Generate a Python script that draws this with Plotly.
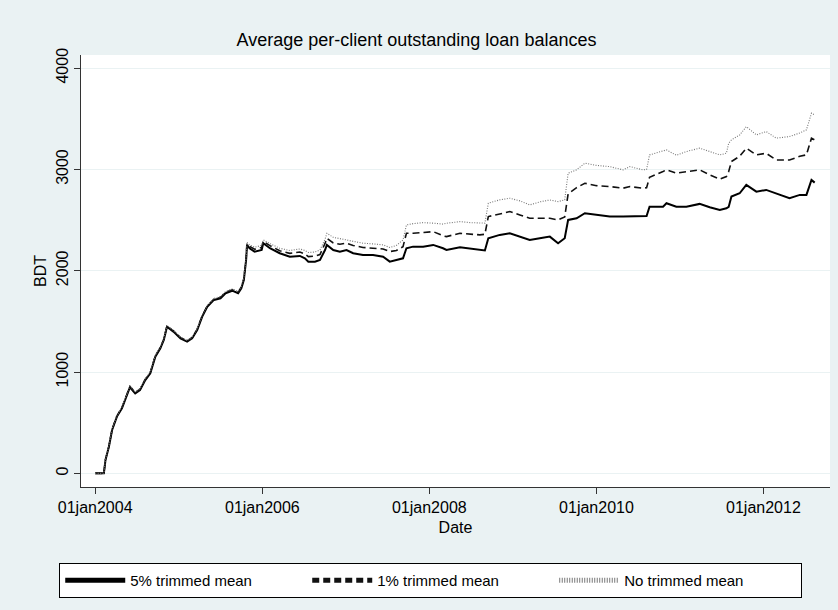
import plotly.graph_objects as go

dates = [
    "2004-01-01", "2004-02-08", "2004-02-15", "2004-03-01", "2004-03-15", "2004-04-05",
    "2004-04-27", "2004-05-18", "2004-06-01", "2004-06-24", "2004-07-15", "2004-08-07",
    "2004-08-29", "2004-09-20", "2004-10-12", "2004-10-27", "2004-11-10", "2004-12-08",
    "2005-01-08", "2005-02-06", "2005-02-28", "2005-03-22", "2005-04-13", "2005-05-05",
    "2005-06-03", "2005-07-02", "2005-07-24", "2005-08-22", "2005-09-17", "2005-10-01",
    "2005-10-12", "2005-10-22", "2005-10-26", "2005-11-06", "2005-11-28", "2005-12-29",
    "2006-01-05", "2006-02-03", "2006-03-18", "2006-05-01", "2006-06-14", "2006-07-06",
    "2006-07-21", "2006-08-19", "2006-09-10", "2006-10-02", "2006-10-10", "2006-11-07",
    "2006-12-06", "2007-01-04", "2007-02-02", "2007-03-17", "2007-04-30", "2007-06-13",
    "2007-07-12", "2007-08-10", "2007-09-08", "2007-09-23", "2007-10-22", "2007-12-05",
    "2008-01-18", "2008-03-01", "2008-03-16", "2008-05-14", "2008-06-27", "2008-08-09",
    "2008-08-31", "2008-09-15", "2008-11-04", "2008-12-18", "2009-01-31", "2009-03-15",
    "2009-04-28", "2009-06-11", "2009-07-17", "2009-08-15", "2009-08-30", "2009-10-06",
    "2009-11-11", "2010-01-01", "2010-02-28", "2010-04-27", "2010-05-27", "2010-07-23",
    "2010-08-08", "2010-08-21", "2010-10-19", "2010-11-03", "2010-12-16", "2011-01-29",
    "2011-03-28", "2011-05-11", "2011-06-24", "2011-07-23", "2011-08-02", "2011-08-14",
    "2011-09-19", "2011-10-18", "2011-12-01", "2012-01-13", "2012-02-26", "2012-04-24",
    "2012-06-08", "2012-07-07", "2012-07-29", "2012-08-12",
]

trim5 = [
    0, 0, 131, 263, 428, 560,
    642, 757, 850, 790, 823, 921,
    988, 1152, 1234, 1316, 1448, 1399,
    1333, 1300, 1333, 1415, 1547, 1645,
    1712, 1728, 1778, 1803, 1778, 1827,
    1909, 2107, 2255, 2222, 2189, 2205,
    2272, 2222, 2173, 2139, 2146, 2123,
    2090, 2090, 2107, 2205, 2255, 2205,
    2189, 2205, 2173, 2156, 2156, 2139,
    2090, 2107, 2123, 2222, 2238, 2238,
    2255, 2222, 2205, 2232, 2222, 2205,
    2200, 2321, 2354, 2370, 2337, 2304,
    2321, 2337, 2272, 2321, 2502, 2518,
    2568, 2551, 2535, 2535, 2537, 2535,
    2540, 2633, 2633, 2667, 2633, 2633,
    2660, 2627, 2600, 2617, 2630, 2732,
    2765, 2847, 2781, 2798, 2765, 2716,
    2749, 2749, 2897, 2870,
]

trim1 = [
    0, 0, 135, 268, 435, 566,
    650, 765, 858, 798, 830, 928,
    996, 1160, 1242, 1324, 1455, 1406,
    1340, 1307, 1340, 1422, 1555, 1652,
    1720, 1737, 1787, 1812, 1788, 1837,
    1920, 2120, 2268, 2240, 2212, 2230,
    2290, 2248, 2198, 2172, 2185, 2165,
    2140, 2145, 2160, 2270, 2321, 2275,
    2262, 2272, 2250, 2230, 2222, 2215,
    2189, 2200, 2238, 2370, 2370, 2375,
    2386, 2345, 2337, 2370, 2360, 2354,
    2360, 2535, 2560, 2584, 2550, 2518,
    2518, 2518, 2502, 2530, 2760, 2820,
    2864, 2840, 2831, 2815, 2831, 2815,
    2820, 2923, 2980, 2996, 2963, 2975,
    2996, 2946, 2904, 2930, 2979, 3078,
    3130, 3210, 3144, 3160, 3094, 3094,
    3130, 3144, 3309, 3292,
]

notrim = [
    0, 0, 138, 272, 440, 570,
    655, 770, 862, 804, 836, 934,
    1002, 1166, 1248, 1330, 1460, 1412,
    1346, 1313, 1346, 1428, 1561, 1658,
    1727, 1745, 1795, 1820, 1797, 1846,
    1930, 2132, 2280, 2255, 2232, 2250,
    2305, 2268, 2222, 2200, 2215, 2200,
    2180, 2185, 2205, 2310, 2370, 2330,
    2320, 2304, 2290, 2272, 2265, 2255,
    2230, 2250, 2304, 2452, 2465, 2475,
    2470, 2460, 2469, 2485, 2475, 2469,
    2470, 2667, 2700, 2716, 2690, 2650,
    2680, 2699, 2683, 2700, 2963, 2996,
    3062, 3040, 3028, 2996, 3028, 2996,
    3000, 3144, 3180, 3193, 3140, 3177,
    3210, 3177, 3144, 3160, 3259, 3292,
    3340, 3423, 3341, 3374, 3309, 3325,
    3360, 3391, 3556, 3539,
]

series_names = ["5% trimmed mean", "1% trimmed mean", "No trimmed mean"]
x_tickvals = ["2004-01-01", "2006-01-01", "2008-01-01", "2010-01-01", "2012-01-01"]
x_ticktext = ["01jan2004", "01jan2006", "01jan2008", "01jan2010", "01jan2012"]
y_tickvals = [0, 1000, 2000, 3000, 4000]

BG = "#EAF2F3"
FONT = "Liberation Sans, Arial, Helvetica, sans-serif"

fig = go.Figure()
fig.add_trace(go.Scatter(x=dates, y=trim5, mode="lines", name=series_names[0],
                         line=dict(color="#000000", width=2)))
fig.add_trace(go.Scatter(x=dates, y=trim1, mode="lines", name=series_names[1],
                         line=dict(color="#111111", width=1.6, dash="7px,4px")))
fig.add_trace(go.Scatter(x=dates, y=notrim, mode="lines", name=series_names[2],
                         line=dict(color="#777777", width=1.1, dash="1px,1.5px")))

fig.update_layout(
    width=838, height=610,
    paper_bgcolor=BG, plot_bgcolor="white",
    margin=dict(l=81, r=8, t=55, b=123, autoexpand=False),
    font=dict(family=FONT, size=15, color="#000000"),
    title=dict(text="Average per-client outstanding loan balances",
               x=0.497, xref="container", xanchor="center",
               y=1 - 40 / 610, yref="container", yanchor="middle",
               font=dict(family=FONT, size=18, color="#000000")),
    showlegend=True,
    legend=dict(orientation="h", xref="container", x=0.514, xanchor="center",
                yref="container", y=1 - 563 / 610, yanchor="top",
                bgcolor="white", bordercolor="#000000", borderwidth=1,
                itemwidth=60,
                entrywidth=172, entrywidthmode="pixels",
                font=dict(family=FONT, size=15, color="#000000"),
                itemsizing="constant", traceorder="normal"),
)

fig.update_xaxes(
    type="date",
    range=["2003-10-31", "2012-10-18"],
    tickvals=x_tickvals, ticktext=x_ticktext,
    ticks="outside", ticklen=6, tickwidth=1, tickcolor="#333333",
    showline=True, linecolor="#333333", linewidth=1.2,
    showgrid=False, zeroline=False,
    title=dict(text="Date", standoff=6, font=dict(family=FONT, size=16)),
    tickfont=dict(family=FONT, size=16),
)
fig.update_yaxes(
    range=[-135, 4130],
    tickvals=y_tickvals,
    tickangle=-90,
    ticks="outside", ticklen=6, tickwidth=1, tickcolor="#333333",
    showline=True, linecolor="#333333", linewidth=1.2,
    showgrid=True, gridcolor="#EAF2F3", gridwidth=1.2,
    zeroline=False,
    title=dict(text="BDT", standoff=2, font=dict(family=FONT, size=16)),
    tickfont=dict(family=FONT, size=16),
)

fig.write_html("out.html")
